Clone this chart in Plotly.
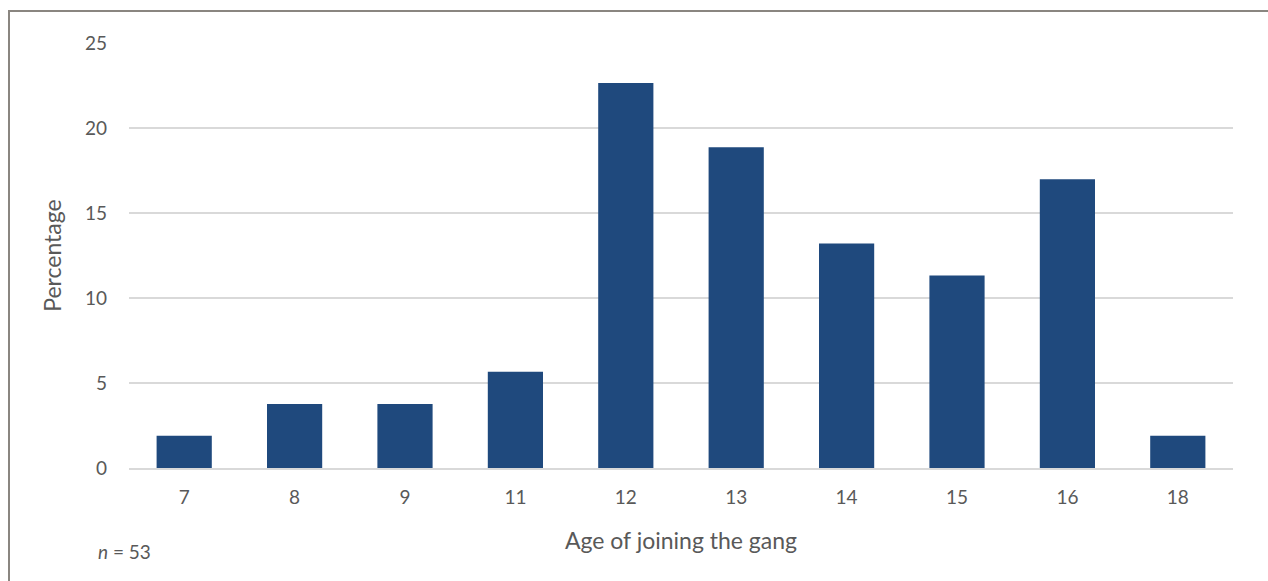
import plotly.graph_objects as go

# Age at which respondents joined the gang (n = 53)
ages = ["7", "8", "9", "11", "12", "13", "14", "15", "16", "18"]
percentages = [1.89, 3.77, 3.77, 5.66, 22.64, 18.87, 13.21, 11.32, 16.98, 1.89]
y_ticks = [0, 5, 10, 15, 20, 25]

W, H = 1268, 581
L, R, T, B = 129, 1233, 43, 468

fig = go.Figure(
    go.Bar(
        x=ages,
        y=percentages,
        marker=dict(color="#1f497d", line=dict(width=0)),
        hoverinfo="x+y",
    )
)

font_family = "Lato, 'Open Sans', sans-serif"
grey = "#595959"

fig.update_layout(
    width=W,
    height=H,
    margin=dict(l=L, r=W - R, t=T, b=H - B),
    paper_bgcolor="white",
    plot_bgcolor="white",
    bargap=0.5,
    showlegend=False,
    font=dict(family=font_family, color=grey, size=19),
    xaxis=dict(
        type="category",
        showgrid=False,
        showline=True,
        linecolor="#d9d9d9",
        linewidth=2,
        ticks="",
        tickfont=dict(size=19, color=grey),
        ticklabelstandoff=11,
        title=dict(
            text="Age of joining the gang",
            font=dict(size=23, color=grey),
            standoff=26,
        ),
    ),
    yaxis=dict(
        range=[0, 25],
        tickvals=y_ticks,
        showgrid=True,
        gridcolor="#d9d9d9",
        gridwidth=2,
        zeroline=False,
        ticks="",
        tickfont=dict(size=19, color=grey),
        ticklabelstandoff=21,
        title=dict(
            text="Percentage",
            font=dict(size=23, color=grey),
            standoff=16,
        ),
    ),
    shapes=[
        # outer frame (top and left edges)
        dict(type="line", xref="paper", yref="paper",
             x0=(9 - L) / (R - L), x1=(W + 5 - L) / (R - L),
             y0=(B - 11) / (B - T), y1=(B - 11) / (B - T),
             line=dict(color="#8a8680", width=2)),
        dict(type="line", xref="paper", yref="paper",
             x0=(9 - L) / (R - L), x1=(9 - L) / (R - L),
             y0=(B - 10) / (B - T), y1=(B - H - 5) / (B - T),
             line=dict(color="#8a8680", width=2)),
    ],
    annotations=[
        dict(
            text="<i>n</i> = 53",
            xref="paper", yref="paper",
            x=(96 - L) / (R - L), y=(B - 551) / (B - T),
            xanchor="left", yanchor="middle",
            showarrow=False,
            font=dict(size=19, color=grey),
        )
    ],
)

fig.write_html("out.html")
